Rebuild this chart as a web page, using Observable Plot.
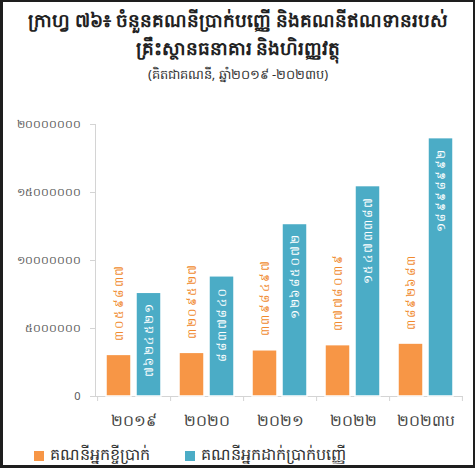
<!DOCTYPE html>
<html>
<head>
<meta charset="utf-8">
<script src="https://cdn.jsdelivr.net/npm/d3@7"></script>
<script src="https://cdn.jsdelivr.net/npm/@observablehq/plot@0.6"></script>
<style>
  html, body { margin: 0; padding: 0; background: #fff; }
  #frame { position: relative; width: 475px; height: 468px; box-sizing: border-box;
    border-left: 3px solid #1e1e1e; border-top: 2px solid #1e1e1e; border-bottom: 3px solid #1e1e1e; border-right: 2px solid #1e1e1e;
    overflow: hidden; font-family: "Noto Sans", "DejaVu Sans", sans-serif; }
  .t { position: absolute; left: 0; width: 100%; text-align: center; color: #222; white-space: nowrap; }
  #t1 { top: 5px; font-size: 18.5px; font-weight: bold; }
  #t2 { top: 33px; font-size: 18.5px; font-weight: bold; }
  #t3 { top: 63px; font-size: 13px; font-weight: normal; color: #333; }
  #chart { position: absolute; left: 0; top: 98px; }
  #legend { position: absolute; top: 441px; left: 0; width: 100%; font-size: 16px; color: #333; }
  .li { position: absolute; display: flex; align-items: center; gap: 6px; white-space: nowrap; }
  .sw { width: 10px; height: 10px; display: inline-block; }
  rect.shadow { filter: drop-shadow(1px 1px 1px rgba(0,0,0,0.25)); }
  .yax text { fill: #595959; }
</style>
</head>
<body>
<div id="frame">
  <div class="t" id="t1">ក្រាហ្វ ៧៦៖ ចំនួនគណនីប្រាក់បញ្ញើ និងគណនីឥណទានរបស់</div>
  <div class="t" id="t2">គ្រឹះស្ថានធនាគារ និងហិរញ្ញវត្ថុ</div>
  <div class="t" id="t3">(គិតជាគណនី, ឆ្នាំ២០១៩ -២០២៣ប)</div>
  <div id="chart"></div>
  <div id="legend"></div>
</div>
<script>
const years = ["២០១៩", "២០២០", "២០២១", "២០២២", "២០២៣ប"];
const borrowers = [3059837, 3209527, 3398497, 3778039, 3892683];
const depositors = [7624521, 8837840, 12685072, 15473387, 18998992];
const yTicks = [0, 5000000, 10000000, 15000000, 20000000];
const yTickLabels = ["0", "៥០០០០០០", "១០០០០០០០", "១៥០០០០០០", "២០០០០០០០"];
const seriesNames = ["គណនីអ្នកខ្ចីប្រាក់", "គណនីអ្នកដាក់ប្រាក់បញ្ញើ"];
const colors = ["#F79646", "#4BACC6"];

const khmer = n => String(n).replace(/\d/g, d => String.fromCharCode(0x17E0 + +d));
const rowsB = years.map((y, i) => ({year: y, value: borrowers[i]}));
const rowsD = years.map((y, i) => ({year: y, value: depositors[i]}));

const axisColor = "#d4d4d4";
const plot = Plot.plot({
  width: 470,
  height: 336,
  marginTop: 24,
  marginBottom: 40,
  marginLeft: 92,
  marginRight: 10,
  style: {fontFamily: "'Noto Sans', 'DejaVu Sans', sans-serif", color: "#595959", background: "transparent"},
  x: {domain: years, padding: 0, axis: null},
  y: {domain: [0, 20000000], axis: null},
  marks: [
    Plot.frame({anchor: "left", stroke: axisColor}),
    Plot.ruleY([0], {stroke: axisColor}),
    Plot.axisY({ticks: yTicks, tickFormat: d => yTickLabels[yTicks.indexOf(d)], tickSize: 5, tickPadding: 10, stroke: axisColor, fill: "#595959", fontSize: 11, label: null, className: "yax"}),
    Plot.axisX({tickSize: 5, dx: -36.4, text: null, stroke: axisColor, label: null}),
    Plot.axisX({ticks: [years[years.length - 1]], tickSize: 5, dx: 36.4, text: null, stroke: axisColor, label: null}),
    Plot.axisX({tickSize: 0, tickPadding: 18, fontSize: 15.5, fill: "#444", label: null}),
    Plot.barY(rowsB, {x: "year", y: "value", fill: colors[0], insetLeft: 9, insetRight: 39, stroke: "white", strokeWidth: 1.5, className: "shadow"}),
    Plot.barY(rowsD, {x: "year", y: "value", fill: colors[1], insetLeft: 39, insetRight: 9, stroke: "white", strokeWidth: 1.5, className: "shadow"}),
    Plot.text(rowsB, {x: "year", y: "value", text: d => khmer(d.value), rotate: -90, dx: -15, dy: -14, textAnchor: "start", fill: "#F08A2E", fontSize: 12, lineAnchor: "middle", className: "vlab"}),
    Plot.text(rowsD, {x: "year", y: "value", text: d => khmer(d.value), rotate: -90, dx: 15, dy: 10, textAnchor: "end", fill: "white", fontSize: 12, lineAnchor: "middle", className: "vlab"})
  ]
});
document.getElementById("chart").appendChild(plot);
d3.select(plot).selectAll(".vlab text").style("letter-spacing", "1.5px");

const legend = document.getElementById("legend");
const lx = [31, 182];
seriesNames.forEach((name, i) => {
  const item = document.createElement("div");
  item.className = "li";
  item.style.left = lx[i] + "px";
  item.innerHTML = `<span class="sw" style="background:${colors[i]}"></span><span>${name}</span>`;
  legend.appendChild(item);
});
</script>
</body>
</html>
